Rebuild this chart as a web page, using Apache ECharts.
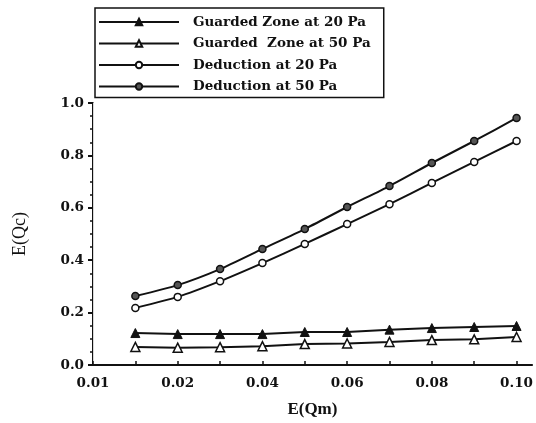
<!DOCTYPE html>
<html>
<head>
<meta charset="utf-8">
<script src="https://cdn.jsdelivr.net/npm/echarts@6/dist/echarts.min.js"></script>
<style>
  html, body { margin: 0; padding: 0; background: #fff; }
  #chart { width: 536px; height: 423px; }
</style>
</head>
<body>
<div id="chart"></div>
<script>
// E(Qm) values of the points
var xValues = [0.01, 0.02, 0.03, 0.04, 0.05, 0.06, 0.07, 0.08, 0.09, 0.10];
// x tick positions and the labels printed under them (first one printed as 0.01 in the original)
var xTickValues = [0, 0.02, 0.04, 0.06, 0.08, 0.10];
var xTickLabels = ['0.01', '0.02', '0.04', '0.06', '0.08', '0.10'];
var xMinorTicks = [0, 0.01, 0.02, 0.03, 0.04, 0.05, 0.06, 0.07, 0.08, 0.09, 0.10];

var guarded20 = [0.122, 0.118, 0.118, 0.118, 0.126, 0.126, 0.135, 0.141, 0.145, 0.149];
var guarded50 = [0.069, 0.066, 0.068, 0.072, 0.080, 0.082, 0.088, 0.095, 0.098, 0.107];
var deduction20 = [0.218, 0.260, 0.320, 0.389, 0.462, 0.538, 0.614, 0.695, 0.775, 0.855];
var deduction50 = [0.263, 0.305, 0.366, 0.443, 0.519, 0.603, 0.683, 0.771, 0.855, 0.943];

var seriesNames = ['Guarded Zone at 20 Pa', 'Guarded  Zone at 50 Pa', 'Deduction at 20 Pa', 'Deduction at 50 Pa'];

function pairs(ys) {
    return xValues.map(function (x, i) { return [x, ys[i]]; });
}

var serif = '"Liberation Serif", "DejaVu Serif", serif';
var wideSerif = '"DejaVu Serif", serif';

var chart = echarts.init(document.getElementById('chart'));
var option = {
    animation: false,
    backgroundColor: '#fff',
    legend: {
        left: 95,
        top: 8,
        orient: 'vertical',
        itemWidth: 80,
        itemHeight: 8,
        itemGap: 7.5,
        padding: [7, 13, 4, 3],
        borderColor: '#111',
        borderWidth: 1.5,
        textStyle: { fontFamily: wideSerif, fontSize: 13.5, fontWeight: 'bold', color: '#111', lineHeight: 14, padding: [0, 0, 0, 9] },
        data: seriesNames
    },
    grid: { left: 93, top: 103, right: 4, bottom: 58 },
    xAxis: [{
        type: 'value',
        min: 0,
        max: 0.1036,
        name: 'E(Qm)',
        nameLocation: 'middle',
        nameGap: 36,
        nameTextStyle: { fontFamily: serif, fontSize: 17, fontWeight: 'bold', color: '#111' },
        axisLine: { lineStyle: { color: '#111', width: 2 } },
        axisTick: { show: true, inside: true, length: 4, customValues: xMinorTicks, lineStyle: { color: '#111', width: 1.5 } },
        axisLabel: {
            customValues: xTickValues,
            margin: 11,
            fontFamily: wideSerif, fontSize: 13.5, fontWeight: 'bold', color: '#111',
            formatter: function (v) {
                var k = Math.round(v * 50);
                return xTickLabels[k] || '';
            }
        },
        splitLine: { show: false }
    }, {
        type: 'value',
        position: 'top',
        min: 0,
        max: 0.1036,
        axisLine: { show: true, lineStyle: { color: '#111', width: 2 } },
        axisTick: { show: false },
        axisLabel: { show: false },
        splitLine: { show: false }
    }],
    yAxis: [{
        type: 'value',
        min: 0,
        max: 1,
        interval: 0.2,
        name: 'E(Qc)',
        nameLocation: 'middle',
        nameGap: 64,
        nameTextStyle: { fontFamily: serif, fontSize: 18, color: '#111' },
        axisLine: { show: true, lineStyle: { color: '#111', width: 2 } },
        axisTick: { show: true, length: 5, lineStyle: { color: '#111', width: 2 } },
        minorTick: { show: true, splitNumber: 4, length: 3, lineStyle: { color: '#111', width: 1.5 } },
        axisLabel: {
            margin: 9,
            fontFamily: wideSerif, fontSize: 13.5, fontWeight: 'bold', color: '#111',
            formatter: function (v) { return v.toFixed(1); }
        },
        splitLine: { show: false }
    }, {
        type: 'value',
        position: 'right',
        min: 0,
        max: 1,
        axisLine: { show: true, lineStyle: { color: '#d8d8d8', width: 1 } },
        axisTick: { show: false },
        axisLabel: { show: false },
        splitLine: { show: false }
    }],
    series: [{
        name: seriesNames[0],
        type: 'line',
        data: pairs(guarded20),
        symbol: 'triangle',
        symbolSize: 9,
        lineStyle: { color: '#111', width: 2 },
        itemStyle: { color: '#111', borderColor: '#111', borderWidth: 1 }
    }, {
        name: seriesNames[1],
        type: 'line',
        data: pairs(guarded50),
        symbol: 'triangle',
        symbolSize: 9,
        lineStyle: { color: '#111', width: 2 },
        itemStyle: { color: '#fff', borderColor: '#111', borderWidth: 1.5 }
    }, {
        name: seriesNames[2],
        type: 'line',
        data: pairs(deduction20),
        symbol: 'circle',
        symbolSize: 7,
        smooth: 0.2,
        lineStyle: { color: '#111', width: 2 },
        itemStyle: { color: '#fff', borderColor: '#111', borderWidth: 1.5 }
    }, {
        name: seriesNames[3],
        type: 'line',
        data: pairs(deduction50),
        symbol: 'circle',
        symbolSize: 7,
        smooth: 0.2,
        lineStyle: { color: '#111', width: 2 },
        itemStyle: { color: '#555', borderColor: '#111', borderWidth: 1.5 }
    }]
};
chart.setOption(option);
</script>
</body>
</html>
